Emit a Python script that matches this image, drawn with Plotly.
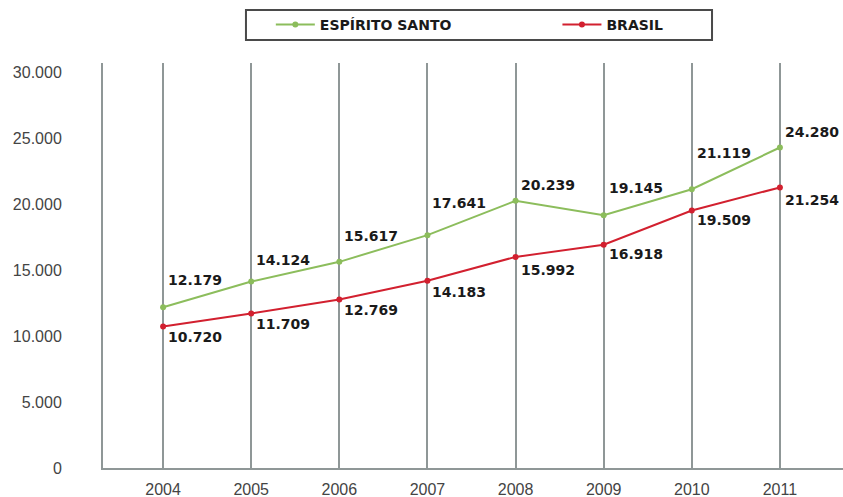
import plotly.graph_objects as go

# Data
years = [2004, 2005, 2006, 2007, 2008, 2009, 2010, 2011]
espirito_santo = [12179, 14124, 15617, 17641, 20239, 19145, 21119, 24280]
brasil = [10720, 11709, 12769, 14183, 15992, 16918, 19509, 21254]
y_ticks = [0, 5000, 10000, 15000, 20000, 25000, 30000]

GREEN = "#8cbd5c"
RED = "#d2202f"
GRID = "#8f9797"

# vertical pixel offsets for the value labels (positive = up)
es_label_shift = [27, 22, 26, 32, 16, 27, 36, 15]
br_label_shift = [-11, -11, -11, -11, -13, -9, -10, -13]


def fmt(v):
    return f"{v:,}".replace(",", ".")


fig = go.Figure()
fig.add_trace(go.Scatter(
    x=years, y=espirito_santo, name="<b>ESPÍRITO SANTO</b>", mode="lines+markers",
    line=dict(color=GREEN, width=2), marker=dict(color=GREEN, size=6),
    legend="legend",
))
fig.add_trace(go.Scatter(
    x=years, y=brasil, name="<b>BRASIL</b>", mode="lines+markers",
    line=dict(color=RED, width=2), marker=dict(color=RED, size=6),
    legend="legend2",
))

label_font = dict(family="DejaVu Sans", size=14, color="#1a1a1a")
annotations = []
for x, v, s in zip(years, espirito_santo, es_label_shift):
    annotations.append(dict(x=x, y=v, text=f"<b>{fmt(v)}</b>", showarrow=False,
                            xanchor="left", yanchor="middle", xshift=3, yshift=s,
                            font=label_font))
for x, v, s in zip(years, brasil, br_label_shift):
    annotations.append(dict(x=x, y=v, text=f"<b>{fmt(v)}</b>", showarrow=False,
                            xanchor="left", yanchor="middle", xshift=3, yshift=s,
                            font=label_font))

legend_font = dict(family="DejaVu Sans", size=14, color="#1a1a1a")

fig.update_layout(
    width=843, height=497,
    margin=dict(l=103, r=0, t=63, b=29),
    paper_bgcolor="white", plot_bgcolor="white",
    showlegend=True,
    legend=dict(x=0.2268, y=1.094, xanchor="left", yanchor="middle",
                orientation="h", font=legend_font, bgcolor="rgba(0,0,0,0)",
                borderwidth=0, itemwidth=39),
    legend2=dict(x=0.6141, y=1.094, xanchor="left", yanchor="middle",
                 orientation="h", font=legend_font, bgcolor="rgba(0,0,0,0)",
                 borderwidth=0, itemwidth=39),
    xaxis=dict(
        range=[2003.318, 2011.716], tickmode="array", tickvals=years,
        ticktext=[str(y) for y in years],
        showgrid=True, gridcolor=GRID, gridwidth=2,
        showline=True, linecolor=GRID, linewidth=2,
        zeroline=False, ticks="", ticklabelstandoff=6, automargin=False,
        tickfont=dict(family="Liberation Sans", size=16, color="#444"),
        fixedrange=True,
    ),
    yaxis=dict(
        range=[0, 30680], tickmode="array", tickvals=y_ticks,
        ticktext=[fmt(v) for v in y_ticks],
        showgrid=False, showline=True, linecolor=GRID, linewidth=2,
        zeroline=False, ticks="", ticklabelstandoff=36, automargin=False,
        tickfont=dict(family="Liberation Sans", size=16, color="#444"),
        fixedrange=True,
    ),
    annotations=annotations,
    shapes=[dict(type="rect", xref="paper", yref="paper",
                 x0=0.1932, x1=0.8230, y0=1.0568, y1=1.1309,
                 line=dict(color="#4a4a4a", width=2), fillcolor="rgba(0,0,0,0)")],
)

fig.write_html("out.html", config={"displayModeBar": False})
